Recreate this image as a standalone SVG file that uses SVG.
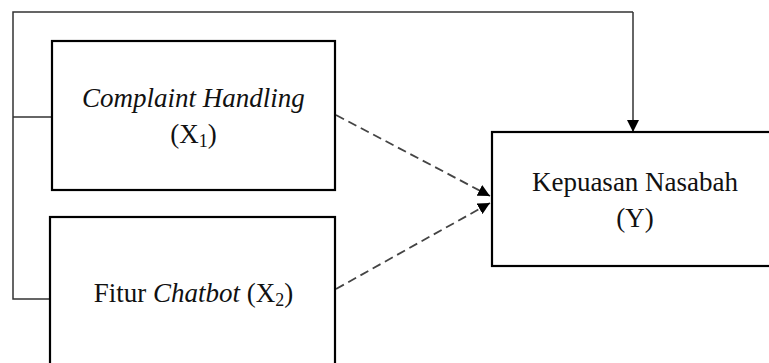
<svg xmlns="http://www.w3.org/2000/svg" width="769" height="363" viewBox="0 0 769 363">
<style>
.box{fill:#fff;stroke:#000;stroke-width:2.2}
.t{font-family:"Liberation Serif","Times New Roman",serif;font-size:27px;fill:#111;text-anchor:middle}
.i{font-style:italic}
.sub{font-size:18px}
.conn{fill:none;stroke:#333;stroke-width:1.5}
.dash{fill:none;stroke:#444;stroke-width:1.8;stroke-dasharray:9 5}
</style>
<defs>
<marker id="ah" viewBox="0 0 10 10" refX="10" refY="5" markerWidth="12" markerHeight="12" markerUnits="userSpaceOnUse" orient="auto">
<path d="M0,0 L10,5 L0,10 Z" fill="#000"/>
</marker>
</defs>
<g id="connectors">
<path class="conn" d="M633,12 H13 V299 H50"/>
<path class="conn" d="M13,117 H52"/>
<path class="conn" d="M633,12 V132" marker-end="url(#ah)"/>
<path class="dash" d="M336,115 L490,196" marker-end="url(#ah)"/>
<path class="dash" d="M336,289 L490,203" marker-end="url(#ah)"/>
</g>
<g id="x1">
<rect class="box" x="52" y="41" width="283" height="149"/>
<text class="t i" x="193.5" y="107">Complaint Handling</text>
<text class="t" x="193.5" y="143">(X<tspan class="sub" dy="4">1</tspan><tspan dy="-4">)</tspan></text>
</g>
<g id="x2">
<rect class="box" x="50" y="217" width="285" height="170"/>
<text class="t" x="193.5" y="302">Fitur <tspan class="i">Chatbot</tspan> (X<tspan class="sub" dy="4">2</tspan><tspan dy="-4">)</tspan></text>
</g>
<g id="y">
<rect class="box" x="492" y="132" width="300" height="134"/>
<text class="t" x="635" y="191">Kepuasan Nasabah</text>
<text class="t" x="635" y="227">(Y)</text>
</g>
</svg>
